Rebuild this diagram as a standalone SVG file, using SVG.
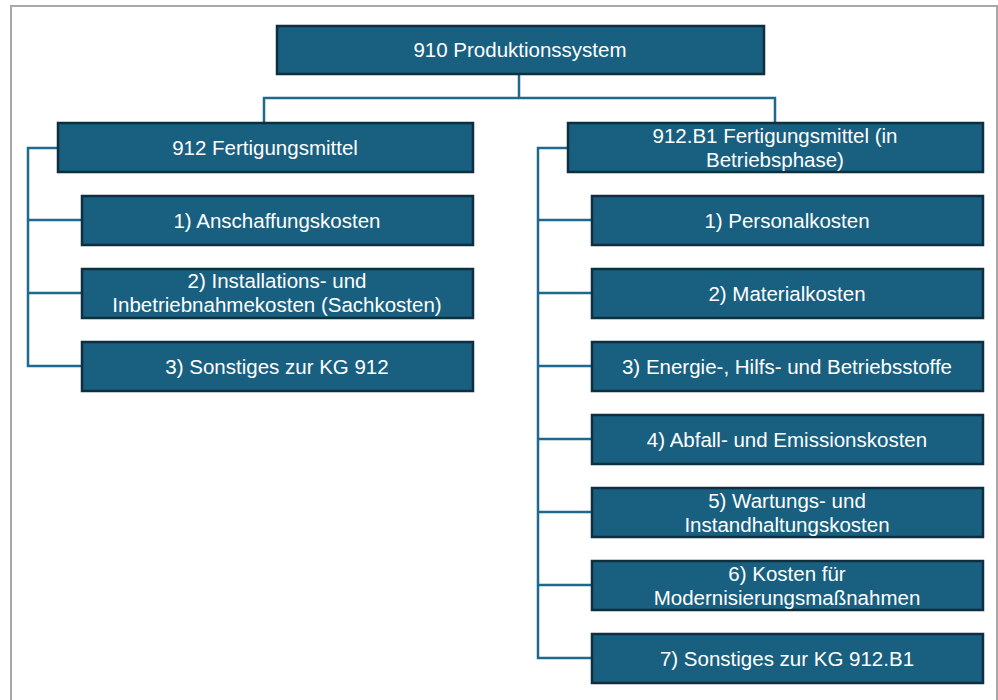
<svg xmlns="http://www.w3.org/2000/svg" width="998" height="700" viewBox="0 0 998 700">
<style>
.box{fill:#195f80;stroke:#0d2f40;stroke-width:2.5}
.t{font-family:"Liberation Sans",Arial,sans-serif;font-size:20.5px;fill:#ffffff;text-anchor:middle}
.c{fill:none;stroke:#1d6a8c;stroke-width:2.5}
</style>
<rect x="0" y="0" width="998" height="700" fill="#ffffff"/>
<path d="M11,700 V6 H997 V700" fill="none" stroke="#a8a8a8" stroke-width="2"/>
<g id="connectors">
<path class="c" d="M519,74 V98 M264,123 V98 H775 V123"/>
<path class="c" d="M58,148 H28 V366 H82 M28,220 H82 M28,293 H82"/>
<path class="c" d="M568,148 H538 V658 H592 M538,220 H592 M538,293 H592 M538,366 H592 M538,439 H592 M538,512 H592 M538,585 H592"/>
</g>
<g id="n910"><rect class="box" x="277" y="26" width="487" height="48"/><text class="t" x="520" y="57">910 Produktionssystem</text></g>
<g id="n912"><rect class="box" x="58" y="123" width="415" height="49"/><text class="t" x="265" y="155">912 Fertigungsmittel</text></g>
<g id="n912_1"><rect class="box" x="82" y="196" width="391" height="49"/><text class="t" x="277" y="228">1) Anschaffungskosten</text></g>
<g id="n912_2"><rect class="box" x="82" y="269" width="391" height="49"/><text class="t" x="277" y="288">2) Installations- und</text><text class="t" x="277" y="312">Inbetriebnahmekosten (Sachkosten)</text></g>
<g id="n912_3"><rect class="box" x="82" y="342" width="391" height="49"/><text class="t" x="277" y="374">3) Sonstiges zur KG 912</text></g>
<g id="n912B1"><rect class="box" x="568" y="123" width="415" height="49"/><text class="t" x="775" y="143">912.B1 Fertigungsmittel (in</text><text class="t" x="775" y="167">Betriebsphase)</text></g>
<g id="nB1_1"><rect class="box" x="592" y="196" width="391" height="49"/><text class="t" x="787" y="228">1) Personalkosten</text></g>
<g id="nB1_2"><rect class="box" x="592" y="269" width="391" height="49"/><text class="t" x="787" y="301">2) Materialkosten</text></g>
<g id="nB1_3"><rect class="box" x="592" y="342" width="391" height="49"/><text class="t" x="787" y="374">3) Energie-, Hilfs- und Betriebsstoffe</text></g>
<g id="nB1_4"><rect class="box" x="592" y="415" width="391" height="49"/><text class="t" x="787" y="447">4) Abfall- und Emissionskosten</text></g>
<g id="nB1_5"><rect class="box" x="592" y="488" width="391" height="49"/><text class="t" x="787" y="508">5) Wartungs- und</text><text class="t" x="787" y="532">Instandhaltungskosten</text></g>
<g id="nB1_6"><rect class="box" x="592" y="561" width="391" height="49"/><text class="t" x="787" y="581">6) Kosten für</text><text class="t" x="787" y="605">Modernisierungsmaßnahmen</text></g>
<g id="nB1_7"><rect class="box" x="592" y="634" width="391" height="49"/><text class="t" x="787" y="666">7) Sonstiges zur KG 912.B1</text></g>
</svg>
